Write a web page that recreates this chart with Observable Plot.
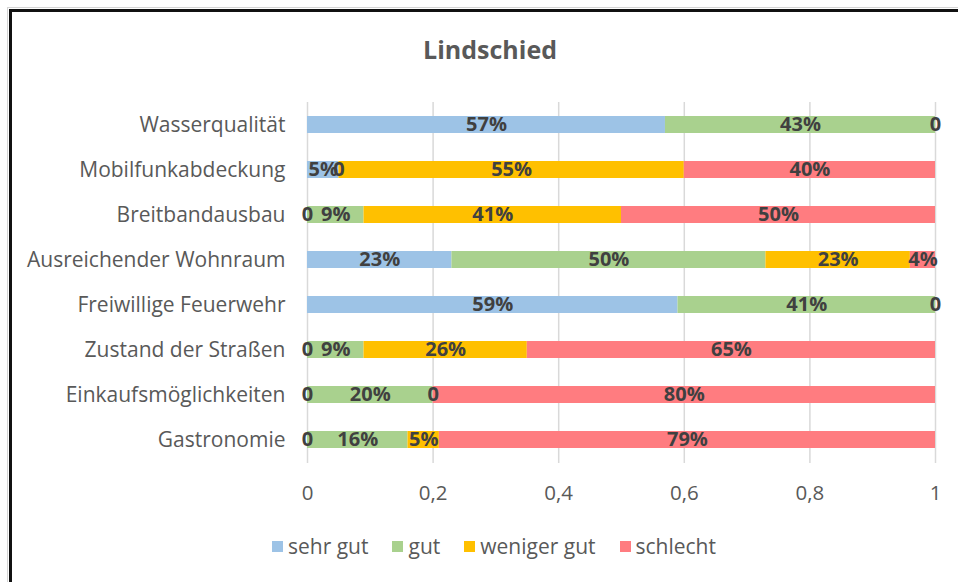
<!DOCTYPE html>
<html>
<head>
<meta charset="utf-8">
<script src="https://cdn.jsdelivr.net/npm/d3@7"></script>
<script src="https://cdn.jsdelivr.net/npm/@observablehq/plot@0.6"></script>
<style>
  html, body { margin: 0; padding: 0; background: #fff; overflow: hidden; }
  body { width: 958px; height: 582px; position: relative; font-family: "Open Sans", Lato, sans-serif; }
  #outer { position: absolute; left: 7px; top: 7px; width: 1000px; height: 640px; border-left: 1px solid #d4d4d4; border-top: 1px solid #d4d4d4; }
  #frame { position: absolute; left: 9px; top: 9px; width: 1000px; height: 640px; border-left: 3px solid #111; border-top: 3px solid #111; }
  #title { position: absolute; left: 0; top: 32px; width: 980px; text-align: center; font-size: 25px; font-weight: bold; color: #595959; line-height: 34px; }
  #chart { position: absolute; left: 0; top: 85px; }
  #legend { position: absolute; left: 0; top: 532px; width: 988px; display: flex; justify-content: center; gap: 24px; font-size: 21px; color: #595959; line-height: 28px; }
  #legend .item { display: flex; align-items: center; gap: 5px; }
  #legend .sw { width: 11px; height: 11px; display: inline-block; }
</style>
</head>
<body>
<div id="outer"></div>
<div id="frame"></div>
<div id="title">Lindschied</div>
<div id="chart"></div>
<div id="legend"></div>
<script>
const categories = ["Wasserqualität", "Mobilfunkabdeckung", "Breitbandausbau", "Ausreichender Wohnraum", "Freiwillige Feuerwehr", "Zustand der Straßen", "Einkaufsmöglichkeiten", "Gastronomie"];
const ratings = ["sehr gut", "gut", "weniger gut", "schlecht"];
const colors = ["#9DC3E6", "#A9D18E", "#FFC000", "#FF7C80"];
const sehrGut    = [0.57, 0.05, 0,    0.23, 0.59, 0,    0,    0];
const gut        = [0.43, 0,    0.09, 0.50, 0.41, 0.09, 0.20, 0.16];
const wenigerGut = [0,    0.55, 0.41, 0.23, 0,    0.26, 0,    0.05];
const schlecht   = [null, 0.40, 0.50, 0.04, null, 0.65, 0.80, 0.79];
const xTicks = [0, 0.2, 0.4, 0.6, 0.8, 1];

const series = [sehrGut, gut, wenigerGut, schlecht];
const data = [];
categories.forEach((c, i) => {
  ratings.forEach((r, j) => {
    const v = series[j][i];
    if (v != null) data.push({category: c, rating: r, value: v});
  });
});

const fmtTick = d => String(d).replace(".", ",");
const fmtLabel = d => d.value === 0 ? "0" : Math.round(d.value * 100) + "%";

const chart = Plot.plot({
  width: 958,
  height: 440,
  marginLeft: 307,
  marginRight: 23,
  marginTop: 17,
  marginBottom: 62,
  style: {fontFamily: "'Open Sans', Lato, sans-serif", fontSize: "21px", color: "#595959", background: "transparent"},
  x: {domain: [0, 1], label: null},
  y: {domain: categories, paddingInner: 0.62, paddingOuter: 0.31, label: null},
  color: {domain: ratings, range: colors},
  marks: [
    Plot.ruleX(xTicks, {stroke: "#d9d9d9", strokeWidth: 1.5}),
    Plot.barX(data, Plot.stackX({x: "value", y: "category", fill: "rating", order: ratings})),
    Plot.text(data, Plot.stackX({x: "value", y: "category", z: "rating", order: ratings, text: fmtLabel, fill: "#404040", fontWeight: "bold", fontSize: 20})),
    Plot.axisX({ticks: xTicks, tickSize: 0, tickPadding: 22, tickFormat: fmtTick, fill: "#595959", fontSize: 20.5, label: null}),
    Plot.axisY({tickSize: 0, tickPadding: 22, fill: "#595959", fontSize: 21, label: null})
  ]
});
document.getElementById("chart").appendChild(chart);

const legend = document.getElementById("legend");
ratings.forEach((r, i) => {
  const item = document.createElement("div");
  item.className = "item";
  const sw = document.createElement("span");
  sw.className = "sw";
  sw.style.background = colors[i];
  const t = document.createElement("span");
  t.textContent = r;
  item.appendChild(sw);
  item.appendChild(t);
  legend.appendChild(item);
});
</script>
</body>
</html>
